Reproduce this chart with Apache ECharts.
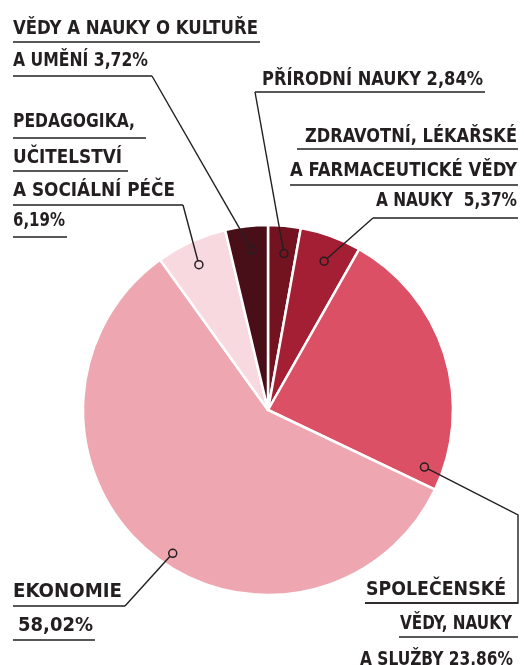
<!DOCTYPE html>
<html>
<head>
<meta charset="utf-8">
<script src="https://cdn.jsdelivr.net/npm/echarts@6/dist/echarts.min.js"></script>
<style>
html,body{margin:0;padding:0;background:#fff;}
#chart{width:524px;height:665px;}
</style>
</head>
<body>
<div id="chart"></div>
<script>
// ---- data (clockwise from 12 o'clock) ----
const categories = [
  'PŘÍRODNÍ NAUKY',
  'ZDRAVOTNÍ, LÉKAŘSKÉ A FARMACEUTICKÉ VĚDY A NAUKY',
  'SPOLEČENSKÉ VĚDY, NAUKY A SLUŽBY',
  'EKONOMIE',
  'PEDAGOGIKA, UČITELSTVÍ A SOCIÁLNÍ PÉČE',
  'VĚDY A NAUKY O KULTUŘE A UMĚNÍ'
];
const values = [2.84, 5.37, 23.86, 58.02, 6.19, 3.72];
// label text lines; {v} is replaced by the formatted value
const labelLines = [
  ['PŘÍRODNÍ NAUKY {v}'],
  ['ZDRAVOTNÍ, LÉKAŘSKÉ', 'A FARMACEUTICKÉ VĚDY', 'A NAUKY  {v}'],
  ['SPOLEČENSKÉ', 'VĚDY, NAUKY', 'A SLUŽBY {v}'],
  ['EKONOMIE', '{v}'],
  ['PEDAGOGIKA,', 'UČITELSTVÍ', 'A SOCIÁLNÍ PÉČE', '{v}'],
  ['VĚDY A NAUKY O KULTUŘE', 'A UMĚNÍ {v}']
];

// ---- styling / annotation layout ----
const colors = ['#731320', '#a41e34', '#dc5065', '#eea7b0', '#f8d9df', '#480f18'];
const INK = '#231f20';
const FONT_FAMILY = '"DejaVu Sans Condensed", "Liberation Sans Narrow", sans-serif';
const FONT_SIZE = 20;
const TEXT_DY = 1;
// per label: text lines [x, capMidY, width], underlines [x1,x2,y], leader path start, marker [angleFrac, radiusFrac]
const annot = [
  { lines: [[262, 78.5, 221]], under: [[255, 485, 92]], leader: [[255, 92]], marker: [0.57, 0.85] },
  { lines: [[305, 135.5, 212], [290, 170, 227], [376, 200, 141]],
    under: [[297, 518, 149], [290, 518, 185], [373, 518, 218]], leader: [[373, 218]], marker: [0.54, 0.86] },
  { lines: [[366, 589, 140], [400, 623, 112], [360, 658.5, 153]],
    under: [[365, 518, 603], [399, 518, 637]], leader: [[365, 603], [518, 603], [518, 515]], marker: [0.937, 0.90] },
  { lines: [[13, 590.5, 109], [18, 624.5, 75]],
    under: [[13, 125, 606], [13, 95, 640]], leader: [[125, 606]], marker: [0.47, 0.93] },
  { lines: [[13, 120.5, 122], [13, 156.5, 109], [13, 190, 162], [13, 220, 52]],
    under: [[13, 146, 138], [13, 128, 171], [13, 183, 205], [13, 67, 237]], leader: [[183, 205]], marker: [0.46, 0.87] },
  { lines: [[13, 28, 245], [13, 59.5, 135]],
    under: [[13, 260, 42], [13, 152, 76]], leader: [[152, 76]], marker: [0.57, 0.87] }
];

function fmt(v) { return v.toFixed(2).replace('.', ','); }

const chart = echarts.init(document.getElementById('chart'), null, { renderer: 'canvas' });

const option = {
  animation: false,
  backgroundColor: '#ffffff',
  series: [{
    type: 'pie',
    center: [268, 410],
    radius: 185,
    startAngle: 90,
    clockwise: true,
    avoidLabelOverlap: false,
    label: { show: false },
    labelLine: { show: false },
    emphasis: { disabled: true },
    itemStyle: { borderColor: '#ffffff', borderWidth: 2.5 },
    data: categories.map((c, i) => ({ name: c, value: values[i], itemStyle: { color: colors[i] } }))
  }]
};
chart.setOption(option);

// measure text
const mctx = document.createElement('canvas').getContext('2d');
const fontStr = 'bold ' + FONT_SIZE + 'px ' + FONT_FAMILY;
mctx.font = fontStr;

function sliceLayout(i) {
  try {
    const lay = chart.getModel().getSeriesByIndex(0).getData().getItemLayout(i);
    if (lay && lay.r) return lay;
  } catch (e) {}
  const sum = values.reduce((a, b) => a + b, 0);
  let acc = 0;
  for (let k = 0; k < i; k++) acc += values[k];
  const s = -Math.PI / 2 + acc / sum * 2 * Math.PI;
  return { cx: 268, cy: 410, r: 185, startAngle: s, endAngle: s + values[i] / sum * 2 * Math.PI };
}

const elements = [];
annot.forEach((a, i) => {
  const lines = labelLines[i].map(t => t.replace('{v}', fmt(values[i]) + '%'));
  lines.forEach((t, j) => {
    const [x, y, w] = a.lines[j];
    const mw = mctx.measureText(t).width || w;
    elements.push({
      type: 'text', x: x, y: y + TEXT_DY, scaleX: w / mw, z: 10,
      style: { text: t, x: 0, y: 0, font: fontStr, fill: INK, textAlign: 'left', textVerticalAlign: 'middle', align: 'left', verticalAlign: 'middle' }
    });
  });
  a.under.forEach(u => {
    elements.push({ type: 'line', z: 10, shape: { x1: u[0], y1: u[2], x2: u[1], y2: u[2] }, style: { stroke: INK, lineWidth: 1.4 } });
  });
  const lay = sliceLayout(i);
  const ang = lay.startAngle + a.marker[0] * (lay.endAngle - lay.startAngle);
  const mx = lay.cx + lay.r * a.marker[1] * Math.cos(ang);
  const my = lay.cy + lay.r * a.marker[1] * Math.sin(ang);
  const pts = a.leader.slice();
  const last = pts[pts.length - 1];
  const dx = mx - last[0], dy = my - last[1], d = Math.hypot(dx, dy);
  pts.push([mx - dx / d * 4, my - dy / d * 4]);
  elements.push({ type: 'polyline', z: 10, shape: { points: pts }, style: { stroke: INK, lineWidth: 1.4, fill: null } });
  elements.push({ type: 'circle', z: 11, shape: { cx: mx, cy: my, r: 4 }, style: { stroke: INK, lineWidth: 1.5, fill: 'rgba(0,0,0,0)' } });
});

chart.setOption({ graphic: { elements: elements } });
</script>
</body>
</html>
